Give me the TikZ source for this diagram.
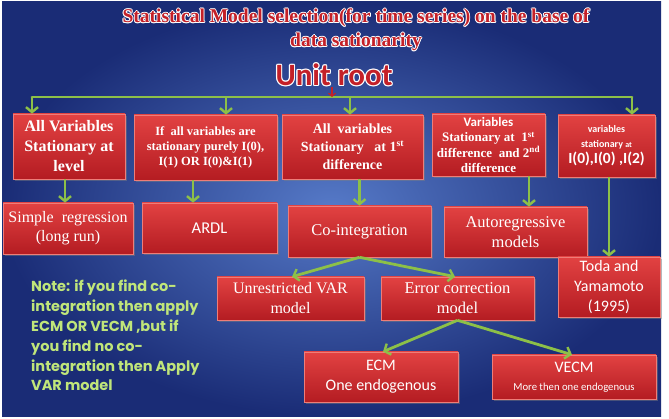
\documentclass[tikz,border=0pt]{standalone}
\usepackage{fontspec}
\setmainfont{Liberation Serif}
\newfontfamily\calfont{Carlito}
\newfontfamily\notefont{Poppins}
\usetikzlibrary{arrows.meta,shadows,calc}

\definecolor{bgin}{RGB}{86,122,200}
\definecolor{bgout}{RGB}{26,44,118}
\definecolor{boxtop}{RGB}{226,66,66}
\definecolor{boxbot}{RGB}{180,28,34}
\definecolor{boxline}{RGB}{238,125,120}
\definecolor{arrowgreen}{RGB}{141,192,72}
\definecolor{titlered}{RGB}{196,32,40}
\definecolor{notegreen}{RGB}{192,230,122}

\newlength{\wod}
\newcommand{\wocopy}[3]{\rlap{\color{white}\kern#1\raisebox{#2}{#3}}}
\newcommand{\wo}[2][0.9pt]{\leavevmode\setlength{\wod}{#1}%
  \wocopy{\wod}{0pt}{#2}\wocopy{-\wod}{0pt}{#2}\wocopy{0pt}{\wod}{#2}\wocopy{0pt}{-\wod}{#2}%
  \wocopy{0.7\wod}{0.7\wod}{#2}\wocopy{-0.7\wod}{0.7\wod}{#2}\wocopy{0.7\wod}{-0.7\wod}{#2}\wocopy{-0.7\wod}{-0.7\wod}{#2}#2}

\tikzset{
  rbox/.style={draw=boxline, line width=0.6pt, top color=boxtop, bottom color=boxbot,
    text=white, align=center, inner sep=0pt,
    drop shadow={opacity=0.45, shadow xshift=2pt, shadow yshift=-2pt}},
  gline/.style={draw=arrowgreen, line width=2.8pt},
  garrow/.style={gline, -{Straight Barb[length=5pt, width=12pt, line width=2.4pt]}},
}

\begin{document}
\begin{tikzpicture}[x=1pt,y=-1pt]
\useasboundingbox (0,0) rectangle (669,419);
\fill[white] (0,0) rectangle (669,419);
\shade[inner color=bgin, outer color=bgout] (2,2) rectangle (661,416);

% titles
\node[text=titlered, font=\bfseries\fontsize{19.5}{24}\selectfont, align=center] (title) at (356,30)
  {\wo{Statistical Model selection(for time series) on the base of}\\ \wo{data sationarity}};
\node[text=titlered, inner sep=0pt, font=\calfont\bfseries\fontsize{31}{31}\selectfont] (ur) at (334,75) {\wo[1.1pt]{Unit root}};

% row 1
\node[rbox, minimum width=112pt, minimum height=65pt, font=\bfseries\fontsize{16}{20}\selectfont] (b1) at (69,146.5)
  {All Variables\\Stationary at\\level};
\node[rbox, minimum width=143pt, minimum height=65pt, font=\bfseries\fontsize{12.5}{15}\selectfont] (b2) at (205.5,147.5)
  {If\ \ all variables are\\stationary purely I(0),\\I(1) OR I(0)\&I(1)};
\node[rbox, minimum width=141pt, minimum height=64pt, font=\bfseries\fontsize{14}{18}\selectfont] (b3) at (352.5,147)
  {All\ \ variables\\Stationary\ \ \ at 1\textsuperscript{st}\\difference};
\node[rbox, minimum width=113pt, minimum height=62pt, font=\bfseries\fontsize{13}{15.5}\selectfont] (b4) at (488.5,145)
  {{\calfont Variables}\\Stationary at\ \ 1\textsuperscript{st}\\difference\ \ and 2\textsuperscript{nd}\\difference};
\node[rbox, minimum width=97pt, minimum height=62pt, font=\calfont\bfseries\fontsize{10}{15}\selectfont] (b5) at (606.5,146)
  {variables\\stationary {\fontsize{8}{8}\selectfont at}\\[1pt]{\fontsize{15.5}{16}\selectfont I(0),I(0) ,I(2)}};

% row 2
\node[rbox, minimum width=130pt, minimum height=51pt, font=\fontsize{16}{19}\selectfont] (c1) at (68,228.5)
  {Simple\ \ regression\\(long run)};
\node[rbox, minimum width=135pt, minimum height=50pt, font=\calfont\fontsize{16.5}{19}\selectfont] (c2) at (209.5,228)
  {ARDL};
\node[rbox, minimum width=143pt, minimum height=51pt, font=\fontsize{16.5}{19}\selectfont] (c3) at (359.5,231.5)
  {Co-integration};
\node[rbox, minimum width=143pt, minimum height=50pt, font=\fontsize{16.5}{20}\selectfont] (c4) at (515.5,232)
  {Autoregressive\\models};
\node[rbox, minimum width=102pt, minimum height=60pt, font=\calfont\fontsize{16}{20}\selectfont] (c5) at (609,287)
  {Toda and\\Yamamoto\\(1995)};

% row 3
\node[rbox, minimum width=147pt, minimum height=43pt, font=\fontsize{16}{20}\selectfont] (d1) at (290.5,298.5)
  {Unrestricted VAR\\model};
\node[rbox, minimum width=153pt, minimum height=43pt, font=\fontsize{16.5}{20}\selectfont] (d2) at (457.5,298.5)
  {Error correction\\model};

% row 4
\node[rbox, minimum width=154pt, minimum height=50pt, font=\calfont\fontsize{16}{20}\selectfont] (e1) at (381,377)
  {ECM\\One endogenous};
\node[rbox, minimum width=164pt, minimum height=44pt, font=\calfont\fontsize{16}{18}\selectfont] (e2) at (574,377)
  {VECM\\{\fontsize{10.7}{12}\selectfont More then one endogenous}};

% note
\node[text=notegreen, inner sep=0pt, anchor=north west, align=left,
  font=\notefont\bfseries\fontsize{14.5}{19.8}\selectfont] (note) at (31,280)
  {Note: if you find co-\\integration then apply\\ECM OR VECM ,but if\\you find no co-\\integration then Apply\\VAR model};

% bracket
\coordinate (hL) at (32,97);
\coordinate (hR) at (632,97);
\coordinate (h2) at (226,97);
\coordinate (h3) at (350,97);
\draw[gline, line cap=round] (hL) -- (hR);
\draw[garrow] (hL) -- (hL |- b1.north);
\draw[garrow] (h2) -- (h2 |- b2.north);
\draw[garrow] (h3) -- (h3 |- b3.north);
\draw[garrow] (hR) -- (hR |- b5.north);
\draw[draw=titlered, line width=1.2pt, -{Straight Barb[length=3pt, width=7pt]}] ([xshift=-2pt]ur.south) -- ([xshift=-2pt]ur.south |- hL);

% row1 -> row2
\draw[garrow] ([xshift=-4pt]b1.south) -- ([xshift=-4pt]b1.south |- c1.north);
\draw[garrow] ([xshift=-12.5pt]b2.south) -- ([xshift=-12.5pt]b2.south |- c2.north);
\draw[garrow] (b3.south -| c3.north) -- (c3.north);
\draw[garrow] ([xshift=40.5pt]b4.south) -- ([xshift=40.5pt]b4.south |- c4.north);
\draw[garrow] (b5.south -| c5.north) -- (c5.north);

% lower
\draw[garrow] (c3.south) -- ([xshift=1.5pt]d1.north);
\draw[garrow] (c3.south) -- ([xshift=-2.5pt]d2.north);
\draw[garrow] (d2.south) -- ([xshift=2pt]e1.north);
\draw[garrow] (d2.south) -- ([xshift=-2pt]e2.north);
\end{tikzpicture}
\end{document}
